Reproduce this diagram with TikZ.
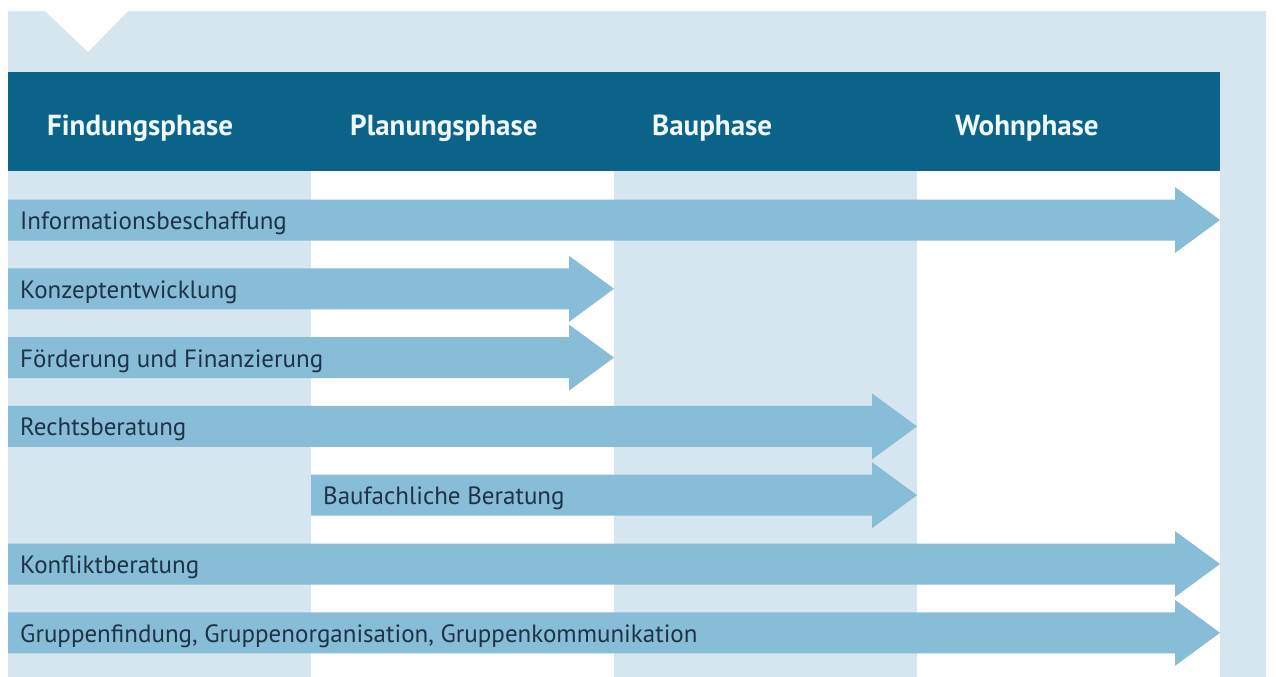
\documentclass[tikz,border=0pt]{standalone}
\usepackage{fontspec}
\setmainfont{PT Sans}
\definecolor{bgblue}{HTML}{D5E6F0}
\definecolor{headblue}{HTML}{0B6389}
\definecolor{arrowblue}{HTML}{87BDD6}
\definecolor{textdark}{HTML}{1D3347}
\definecolor{headtext}{HTML}{F2F9FB}
\tikzset{
  phasehead/.style={anchor=base west, text=headtext, font=\fontsize{29}{34}\selectfont\bfseries, inner sep=0pt},
  arrowlabel/.style={anchor=base west, text=textdark, font=\fontsize{25}{30}\selectfont, inner sep=0pt}
}
\newcommand{\phasearrow}[5]{%
  \fill[arrowblue] (#1,#3-20.5) -- (#2-45,#3-20.5) -- (#2-45,#3-33) -- (#2,#3) -- (#2-45,#3+33) -- (#2-45,#3+20.5) -- (#1,#3+20.5) -- cycle;
  \node[arrowlabel] (#4) at (#1+12,#3+9.5) {#5};
}
\begin{document}
\begin{tikzpicture}[x=1pt,y=-1pt]
\useasboundingbox (0,0) rectangle (1277,677);
\fill[white] (0,0) rectangle (1277,677);
\fill[bgblue] (8,11) rectangle (1266,677);
\fill[white] (45,11) -- (128,11) -- (88,52) -- cycle;
\fill[white] (311,171) rectangle (614,677);
\fill[white] (917,171) rectangle (1220,677);
\fill[headblue] (8,72) rectangle (1220,171);
\node[phasehead] (h1) at (47,135) {Findungsphase};
\node[phasehead] (h2) at (350,135) {Planungsphase};
\node[phasehead] (h3) at (652,135) {Bauphase};
\node[phasehead] (h4) at (955,135) {Wohnphase};
\phasearrow{8}{1220}{220}{a1}{Informationsbeschaffung}
\phasearrow{8}{614}{288.8}{a2}{Konzeptentwicklung}
\phasearrow{8}{614}{357.6}{a3}{Förderung und Finanzierung}
\phasearrow{8}{917}{426.4}{a4}{Rechtsberatung}
\phasearrow{311}{917}{495.2}{a5}{Baufachliche Beratung}
\phasearrow{8}{1220}{564}{a6}{Konfliktberatung}
\phasearrow{8}{1220}{632.8}{a7}{Gruppenfindung, Gruppenorganisation, Gruppenkommunikation}
\end{tikzpicture}
\end{document}
